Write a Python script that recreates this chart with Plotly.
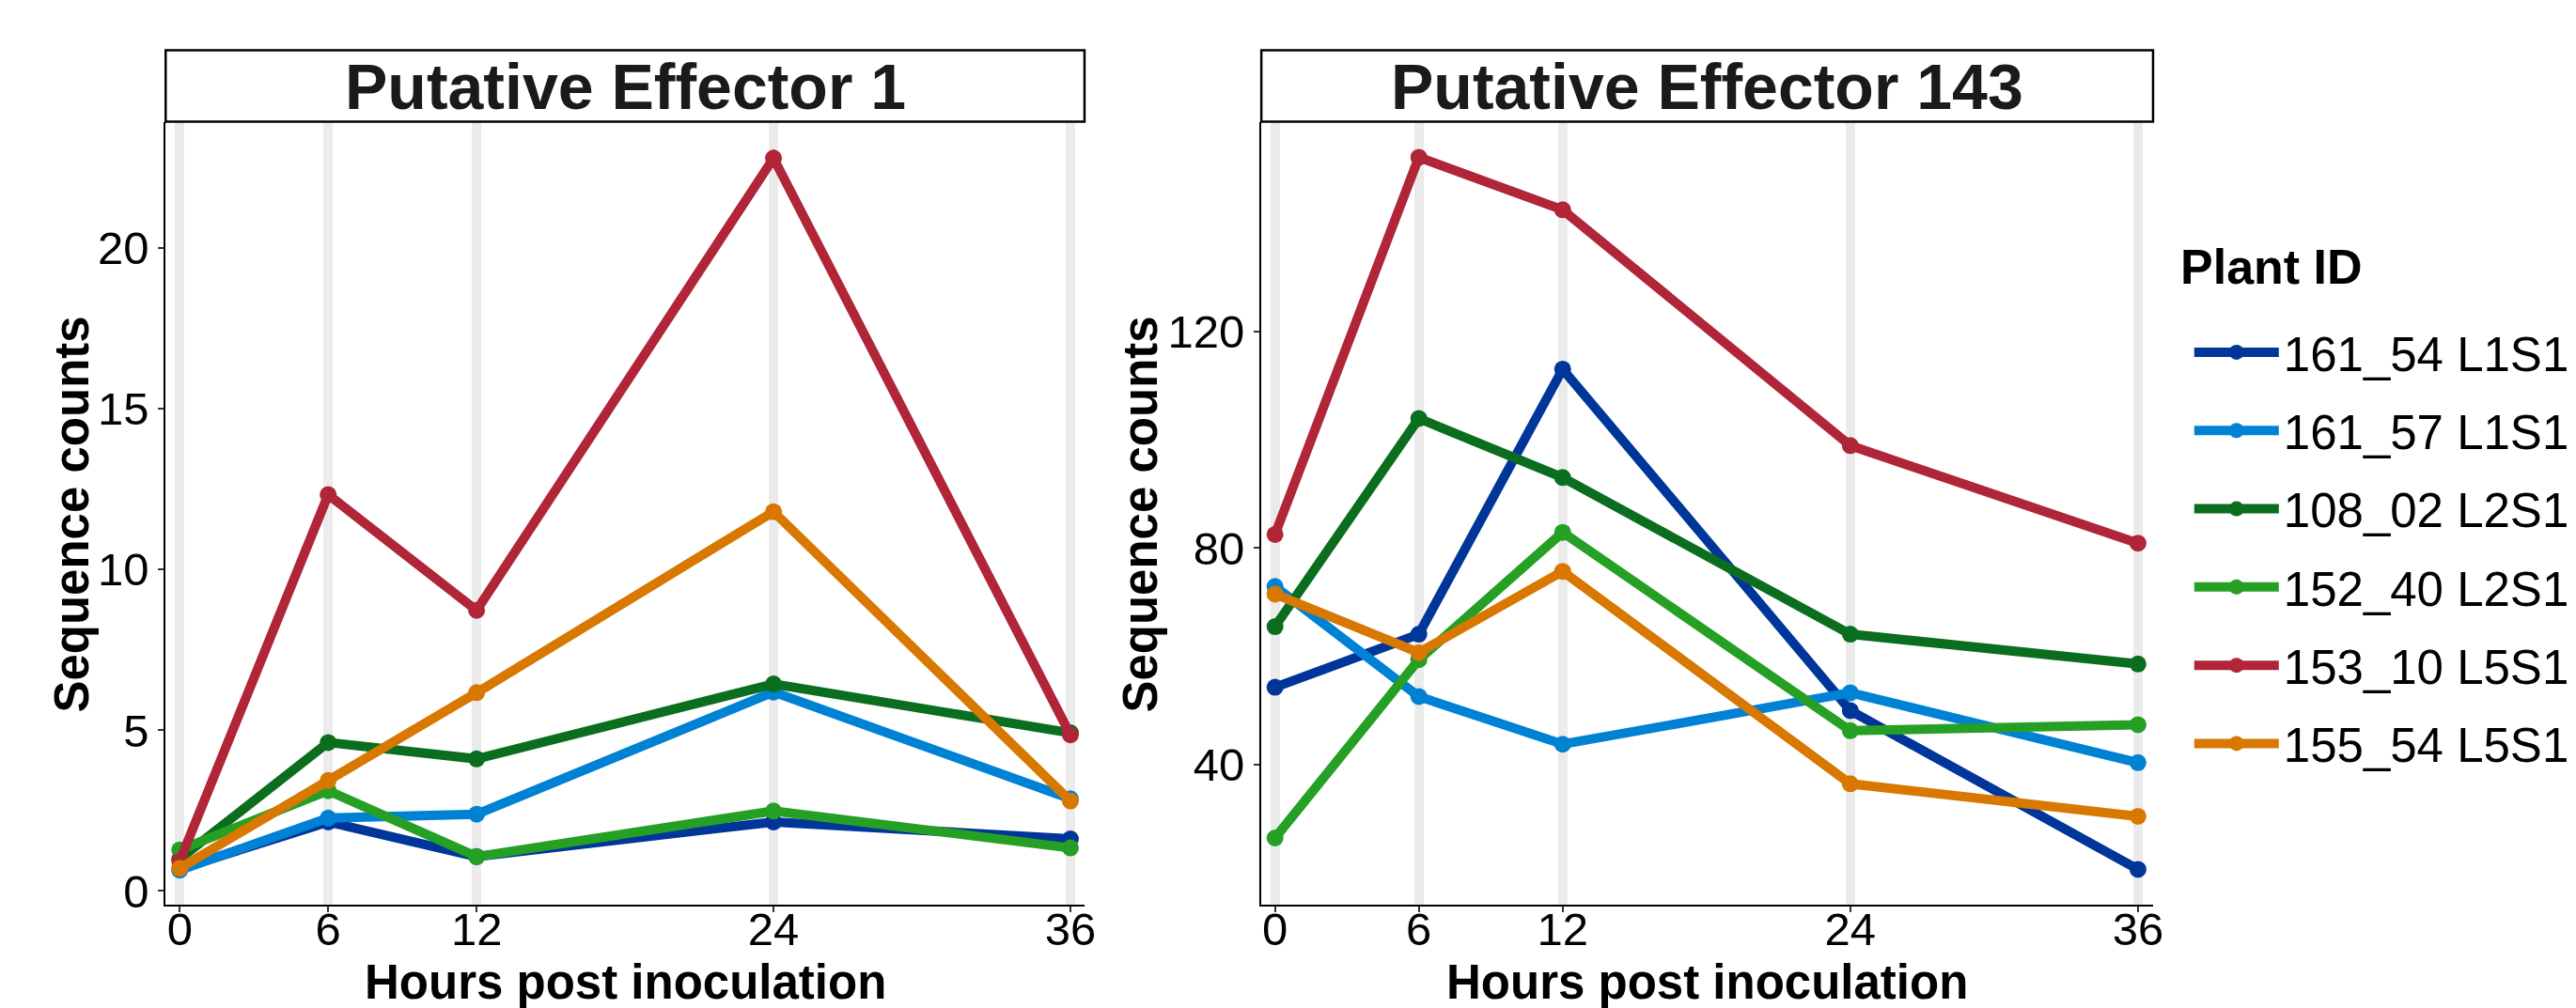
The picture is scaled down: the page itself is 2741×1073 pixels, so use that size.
import plotly.graph_objects as go

hours = [0, 6, 12, 24, 36]
plant_ids = ["161_54 L1S1", "161_57 L1S1", "108_02 L2S1", "152_40 L2S1", "153_10 L5S1", "155_54 L5S1"]
colors = ["#00369A", "#0082D4", "#0B6E1F", "#25A025", "#B02537", "#D87800"]

# Putative Effector 1
eff1_161_54 = [0.69, 2.15, 1.07, 2.15, 1.62]
eff1_161_57 = [0.65, 2.27, 2.39, 6.19, 2.87]
eff1_108_02 = [1.00, 4.62, 4.11, 6.44, 4.92]
eff1_152_40 = [1.28, 3.12, 1.07, 2.49, 1.34]
eff1_153_10 = [0.93, 12.33, 8.73, 22.80, 4.86]
eff1_155_54 = [0.71, 3.44, 6.17, 11.80, 2.80]

# Putative Effector 143
eff143_161_54 = [54.3, 64.1, 113.0, 50.0, 20.7]
eff143_161_57 = [72.9, 52.6, 43.8, 53.3, 40.4]
eff143_108_02 = [65.5, 103.9, 93.0, 64.1, 58.6]
eff143_152_40 = [26.5, 59.4, 82.9, 46.3, 47.4]
eff143_153_10 = [82.5, 152.1, 142.4, 98.9, 80.9]
eff143_155_54 = [71.5, 60.7, 75.7, 36.5, 30.5]

eff1 = [eff1_161_54, eff1_161_57, eff1_108_02, eff1_152_40, eff1_153_10, eff1_155_54]
eff143 = [eff143_161_54, eff143_161_57, eff143_108_02, eff143_152_40, eff143_153_10, eff143_155_54]

panel_titles = ["Putative Effector 1", "Putative Effector 143"]
y1_ticks = [0, 5, 10, 15, 20]
y2_ticks = [40, 80, 120]
x_ticks = [0, 6, 12, 24, 36]
x_title = "Hours post inoculation"
y_title = "Sequence counts"
legend_title = "Plant ID"

W, H = 2741, 1073
FONT = "Liberation Sans, Arial, Helvetica, sans-serif"

def px_x(p):
    return p / W

def px_y(p):
    return 1 - p / H

fig = go.Figure()

for i, name in enumerate(plant_ids):
    fig.add_trace(go.Scatter(
        x=hours, y=eff1[i], mode="lines+markers", name=name, legendgroup=name,
        showlegend=True, line=dict(color=colors[i], width=10),
        marker=dict(color=colors[i], size=18), xaxis="x", yaxis="y"))
    fig.add_trace(go.Scatter(
        x=hours, y=eff143[i], mode="lines+markers", name=name, legendgroup=name,
        showlegend=False, line=dict(color=colors[i], width=10),
        marker=dict(color=colors[i], size=18), xaxis="x2", yaxis="y2"))

# panel geometry in pixels
left_panel = (169, 1151)
right_panel = (1340, 2293)
plot_top, plot_bottom = 123, 966
strip_top = 46

ydom = [px_y(plot_bottom), px_y(plot_top)]

axis_common = dict(
    showline=True, linecolor="black", linewidth=2, mirror=False,
    ticks="outside", ticklen=6, tickwidth=2, tickcolor="#333333",
    tickfont=dict(family=FONT, size=49, color="black"), zeroline=False,
)

fig.update_layout(
    xaxis=dict(domain=[px_x(left_panel[0]), px_x(left_panel[1])], range=[-0.57, 36.57],
               tickvals=x_ticks, showgrid=True, gridcolor="#EBEBEB", gridwidth=10,
               anchor="y", ticklabelstandoff=-24, **axis_common),
    yaxis=dict(domain=ydom, range=[-0.43, 23.93], tickvals=y1_ticks, showgrid=False,
               anchor="x", **axis_common),
    xaxis2=dict(domain=[px_x(right_panel[0]), px_x(right_panel[1])], range=[-0.57, 36.63],
                tickvals=x_ticks, showgrid=True, gridcolor="#EBEBEB", gridwidth=10,
                anchor="y2", ticklabelstandoff=-24, **axis_common),
    yaxis2=dict(domain=ydom, range=[14.16, 158.65], tickvals=y2_ticks, showgrid=False,
                anchor="x2", **axis_common),
)

shapes = []
annotations = []
for (l, r), title in zip([left_panel, right_panel], panel_titles):
    shapes.append(dict(type="rect", xref="paper", yref="paper",
                       x0=px_x(l), x1=px_x(r), y0=px_y(plot_top), y1=px_y(strip_top),
                       line=dict(color="black", width=2.5), fillcolor="white"))
    annotations.append(dict(text="<b>" + title + "</b>", xref="paper", yref="paper",
                            x=px_x((l + r) / 2), y=px_y(85), xanchor="center", yanchor="middle",
                            showarrow=False, font=dict(family=FONT, size=68, color="#1A1A1A")))
    annotations.append(dict(text="<b>" + x_title + "</b>", xref="paper", yref="paper",
                            x=px_x((l + r) / 2), y=px_y(1049), xanchor="center", yanchor="middle",
                            showarrow=False, font=dict(family=FONT, size=51, color="black")))

for xc in [69, 1211]:
    annotations.append(dict(text="<b>" + y_title + "</b>", xref="paper", yref="paper",
                            x=px_x(xc), y=px_y(546), xanchor="center", yanchor="middle",
                            textangle=-90, showarrow=False,
                            font=dict(family=FONT, size=51, color="black")))

annotations.append(dict(text="<b>" + legend_title + "</b>", xref="paper", yref="paper",
                        x=px_x(2320), y=px_y(279), xanchor="left", yanchor="middle",
                        showarrow=False, font=dict(family=FONT, size=52, color="black")))

fig.update_layout(
    width=W, height=H, autosize=False,
    margin=dict(l=0, r=0, t=0, b=0),
    paper_bgcolor="white", plot_bgcolor="white",
    shapes=shapes, annotations=annotations,
    showlegend=True,
    legend=dict(
        font=dict(family=FONT, size=51, color="black"),
        x=px_x(2332), xanchor="left", y=px_y(331), yanchor="top",
        tracegroupgap=14, itemwidth=90, bgcolor="rgba(0,0,0,0)",
    ),
)

fig.write_html("out.html")
